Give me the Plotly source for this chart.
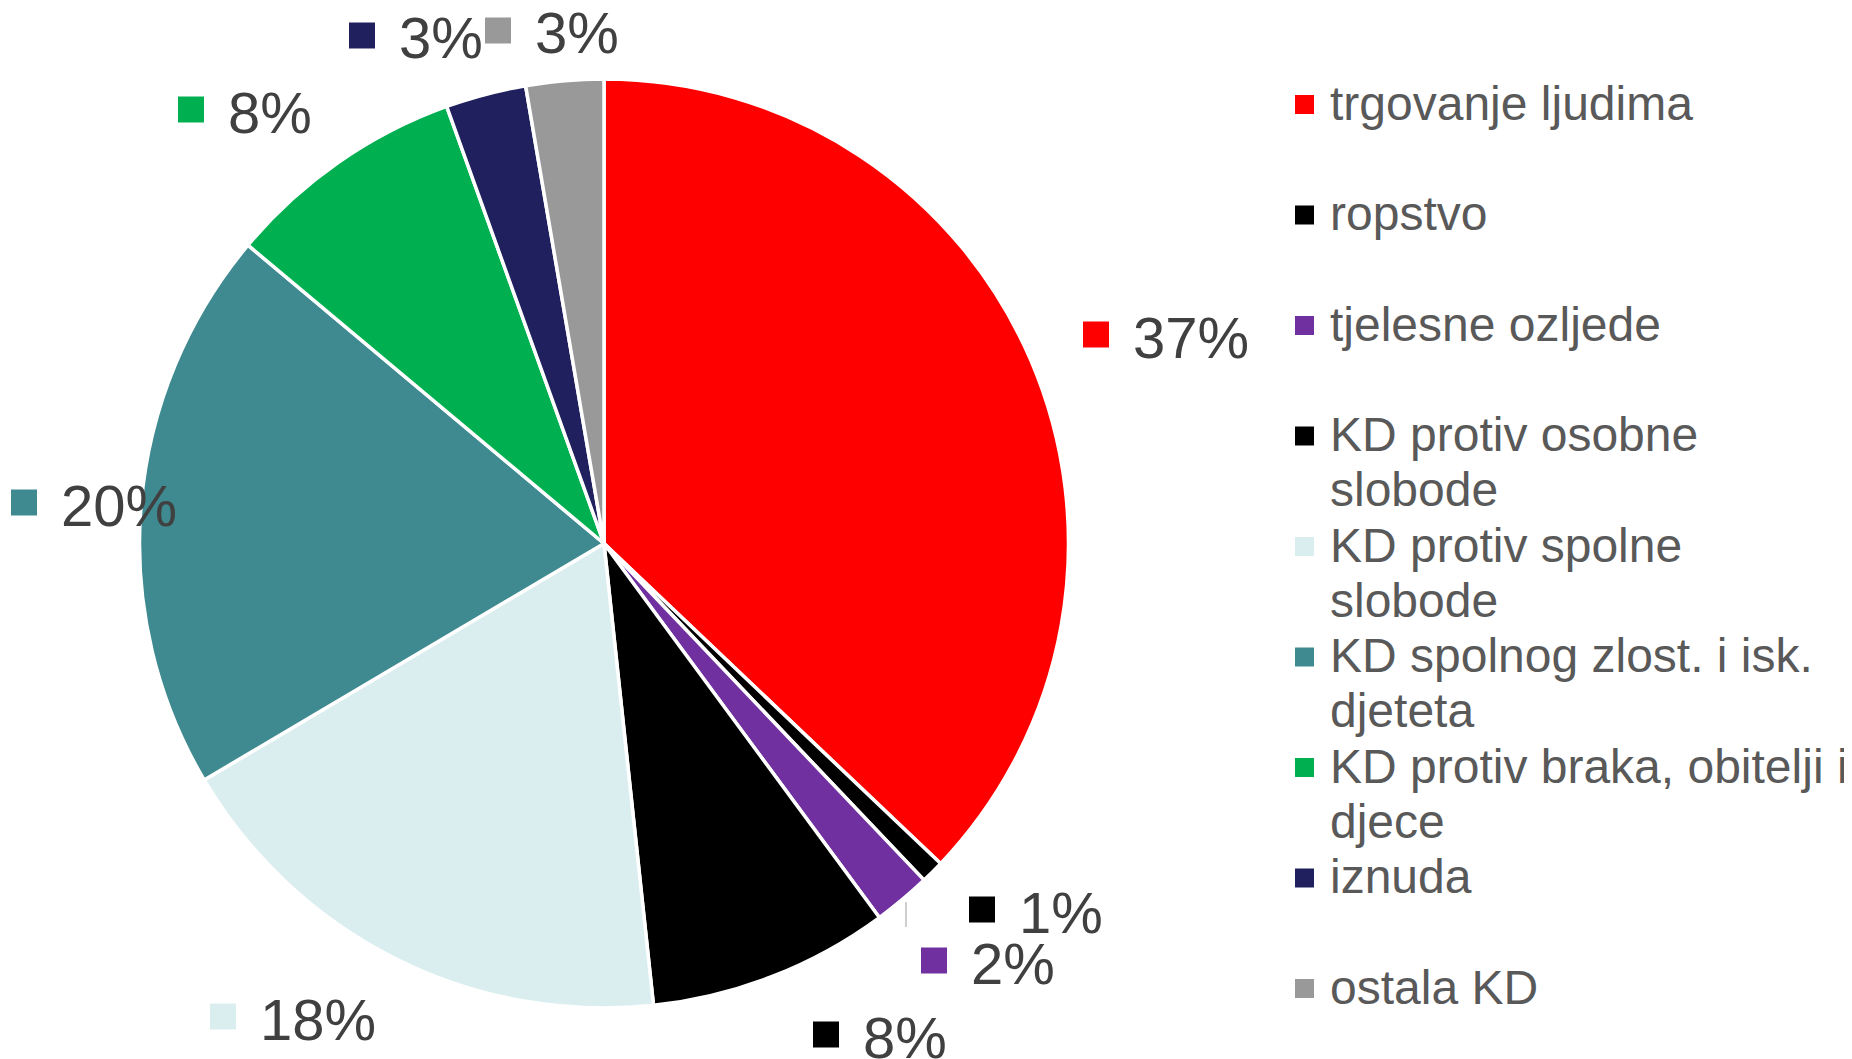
import plotly.graph_objects as go

# categories (pie slices, clockwise from 12 o'clock)
categories = [
    "trgovanje ljudima",
    "ropstvo",
    "tjelesne ozljede",
    "KD protiv osobne slobode",
    "KD protiv spolne slobode",
    "KD spolnog zlost. i isk. djeteta",
    "KD protiv braka, obitelji i djece",
    "iznuda",
    "ostala KD",
]
# legend text, wrapped like the original
legend_lines = [
    ["trgovanje ljudima"],
    ["ropstvo"],
    ["tjelesne ozljede"],
    ["KD protiv osobne", "slobode"],
    ["KD protiv spolne", "slobode"],
    ["KD spolnog zlost. i isk.", "djeteta"],
    ["KD protiv braka, obitelji i", "djece"],
    ["iznuda"],
    ["ostala KD"],
]
shares = [37.1, 0.8, 2.0, 8.4, 18.2, 19.6, 8.4, 2.8, 2.7]
colors = ["#FF0000", "#000000", "#7030A0", "#000000", "#DAEEF0",
          "#3E8A90", "#00B050", "#20205E", "#999999"]

# page is drawn with the browser's 8px body margin
OFF = 8
W, H = 1852 - OFF, 1059 - OFF


def fx(px):
    return (px - OFF) / W


def fy(py):
    return 1 - (py - OFF) / H


# pie centre and radius, screen px
CX, CY, R = 604, 543.5, 464.5

# data labels: left edge of key square, vertical centre of text (screen px)
label_pos = [(1083, 337), (969, 912), (921, 963), (813, 1037), (210, 1019),
             (11, 505), (178, 112), (349, 38), (485, 33)]

# legend: first-line baseline and spacing (screen px)
LEG_X, LEG_Y0, LEG_STEP, LEG_LINE = 1295, 120, 110.5, 55

fig = go.Figure()
fig.add_trace(go.Pie(
    labels=categories,
    values=shares,
    sort=False,
    direction="clockwise",
    rotation=0,
    marker=dict(colors=colors, line=dict(color="white", width=3.5)),
    textinfo="none",
    hoverinfo="label+percent",
    showlegend=False,
    domain=dict(x=[fx(CX - R), fx(CX + R)], y=[fy(CY + R), fy(CY - R)]),
))

shapes = []
annotations = []

# percentage labels with their colour key
total = sum(shares)
for (px, cy), v, c in zip(label_pos, shares, colors):
    pct = round(v / total * 100)
    shapes.append(dict(type="rect", xref="paper", yref="paper",
                       x0=fx(px), x1=fx(px + 26), y0=fy(cy - 15.5), y1=fy(cy + 10.5),
                       fillcolor=c, line=dict(width=0)))
    annotations.append(dict(
        x=fx(px + 48), y=fy(cy), xref="paper", yref="paper",
        xanchor="left", yanchor="middle", showarrow=False,
        text=f"{pct}%",
        font=dict(family="Liberation Sans, Arial", size=58, color="#404040"),
    ))

# leader line for the 1% label
shapes.append(dict(type="line", xref="paper", yref="paper",
                   x0=fx(906), x1=fx(906), y0=fy(902), y1=fy(927),
                   line=dict(color="#BFBFBF", width=1.5)))

# legend
for i, (lines, c) in enumerate(zip(legend_lines, colors)):
    base = LEG_Y0 + i * LEG_STEP
    shapes.append(dict(type="rect", xref="paper", yref="paper",
                       x0=fx(LEG_X), x1=fx(LEG_X + 19),
                       y0=fy(base - 6), y1=fy(base - 25),
                       fillcolor=c, line=dict(width=0)))
    for j, line in enumerate(lines):
        annotations.append(dict(
            x=fx(LEG_X + 33), y=fy(base + j * LEG_LINE - 16.6),
            xref="paper", yref="paper",
            xanchor="left", yanchor="middle", showarrow=False,
            text=line,
            font=dict(family="Liberation Sans, Arial", size=48, color="#595959"),
        ))

fig.update_layout(
    width=W, height=H,
    margin=dict(l=0, r=0, t=0, b=0),
    paper_bgcolor="white",
    plot_bgcolor="white",
    font=dict(family="Liberation Sans, Arial", color="#595959"),
    showlegend=False,
    shapes=shapes,
    annotations=annotations,
)

fig.write_html("out.html")
